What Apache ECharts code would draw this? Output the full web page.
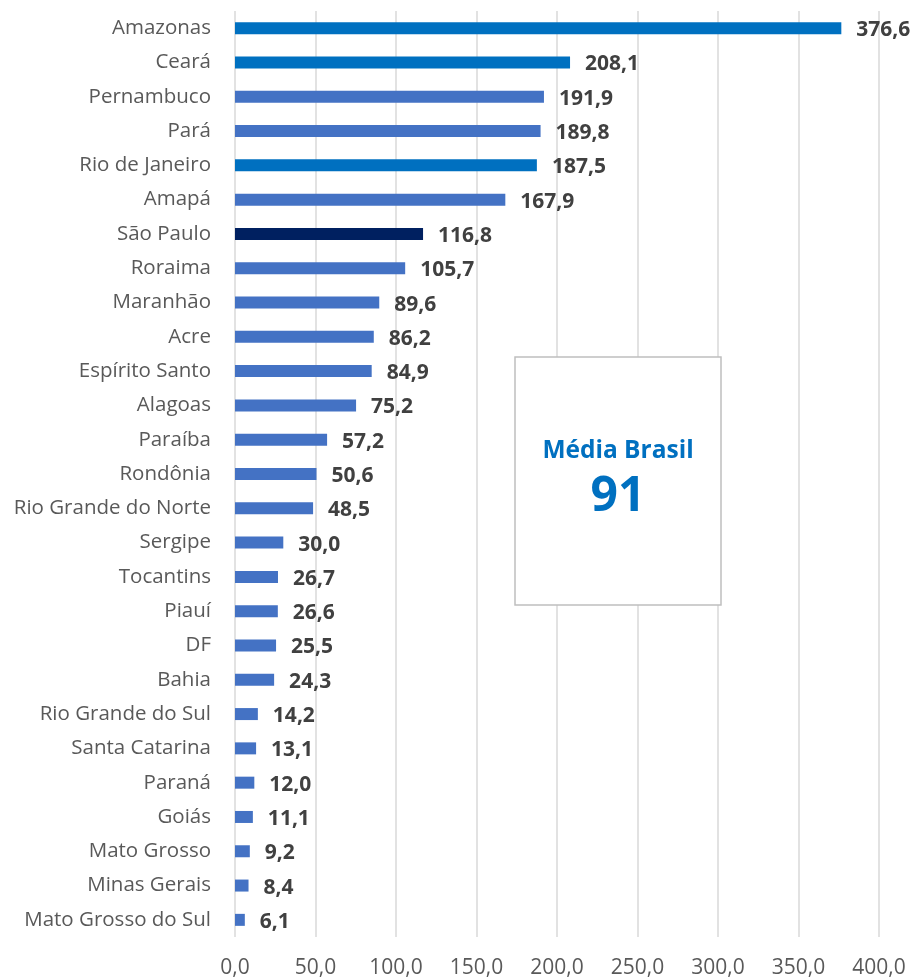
<!DOCTYPE html>
<html>
<head>
<meta charset="utf-8">
<style>
  html, body { margin: 0; padding: 0; background: #ffffff; }
  #chart { width: 912px; height: 980px; }
</style>
<script src="https://cdn.jsdelivr.net/npm/echarts@6/dist/echarts.min.js"></script>
</head>
<body>
<div id="chart"></div>
<script>
// Estados, de cima para baixo
const states = [
  'Amazonas', 'Ceará', 'Pernambuco', 'Pará', 'Rio de Janeiro', 'Amapá',
  'São Paulo', 'Roraima', 'Maranhão', 'Acre', 'Espírito Santo', 'Alagoas',
  'Paraíba', 'Rondônia', 'Rio Grande do Norte', 'Sergipe', 'Tocantins',
  'Piauí', 'DF', 'Bahia', 'Rio Grande do Sul', 'Santa Catarina', 'Paraná',
  'Goiás', 'Mato Grosso', 'Minas Gerais', 'Mato Grosso do Sul'
];
const values = [
  376.6, 208.1, 191.9, 189.8, 187.5, 167.9,
  116.8, 105.7, 89.6, 86.2, 84.9, 75.2,
  57.2, 50.6, 48.5, 30.0, 26.7,
  26.6, 25.5, 24.3, 14.2, 13.1, 12.0,
  11.1, 9.2, 8.4, 6.1
];
// Destaques de cor
const highlightStates = ['Amazonas', 'Ceará', 'Rio de Janeiro'];
const capitalState = 'São Paulo';
const mediaLabel = 'Média Brasil';
const mediaBrasil = 91;

const COLOR_DEFAULT = '#4472C4';
const COLOR_HIGHLIGHT = '#0070C0';
const COLOR_SP = '#002060';
const FONT = '"Open Sans", "Noto Sans", sans-serif';

const fmt = v => v.toFixed(1).replace('.', ',');

const barData = values.map((v, i) => {
  const s = states[i];
  let c = COLOR_DEFAULT;
  if (s === capitalState) c = COLOR_SP;
  else if (highlightStates.includes(s)) c = COLOR_HIGHLIGHT;
  return { value: v, itemStyle: { color: c } };
});

// Caixa da média nacional
const box = { x: 515, y: 357, w: 206, h: 248 };
const boxCx = box.x + box.w / 2;

const chart = echarts.init(document.getElementById('chart'));
chart.setOption({
  animation: false,
  grid: { left: 235, right: 33, top: 11, bottom: 43, containLabel: false },
  xAxis: {
    type: 'value',
    min: 0, max: 400, interval: 50,
    axisLine: { show: false },
    axisTick: { show: false },
    axisLabel: {
      color: '#595959', fontSize: 21, fontFamily: FONT,
      margin: 21,
      formatter: v => fmt(v)
    },
    splitLine: { show: true, lineStyle: { color: '#d9d9d9', width: 1.5 } }
  },
  yAxis: {
    type: 'category',
    data: states,
    inverse: true,
    axisLine: { show: false },
    axisTick: { show: false },
    axisLabel: {
      color: '#595959', fontSize: 20.5, fontFamily: FONT, margin: 24
    }
  },
  series: [{
    type: 'bar',
    data: barData,
    barWidth: 12,
    label: {
      show: true,
      position: 'right',
      distance: 15,
      offset: [0, 2],
      color: '#404040',
      fontSize: 21,
      fontWeight: 'bold',
      fontFamily: FONT,
      formatter: p => fmt(p.value)
    }
  }],
  graphic: [
    {
      type: 'rect',
      x: box.x, y: box.y,
      shape: { x: 0, y: 0, width: box.w, height: box.h },
      style: { fill: '#ffffff', stroke: '#bfbfbf', lineWidth: 1.5 },
      z: 10
    },
    {
      type: 'text',
      x: boxCx, y: 451,
      style: {
        text: mediaLabel, fill: '#0070C0',
        fontSize: 24.5, fontWeight: 'bold', fontFamily: FONT,
        textAlign: 'center', textVerticalAlign: 'middle'
      },
      z: 11
    },
    {
      type: 'text',
      x: boxCx, y: 497,
      style: {
        text: String(mediaBrasil), fill: '#0070C0',
        fontSize: 48, fontWeight: 'bold', fontFamily: FONT,
        textAlign: 'center', textVerticalAlign: 'middle'
      },
      z: 11
    }
  ]
});
</script>
</body>
</html>
